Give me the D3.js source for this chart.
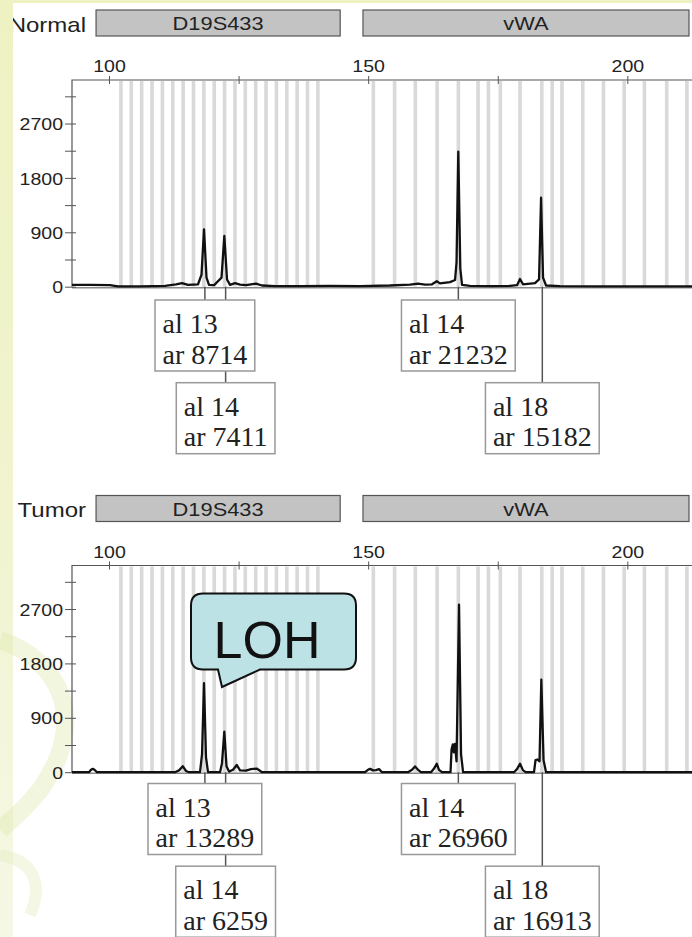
<!DOCTYPE html>
<html>
<head>
<meta charset="utf-8">
<script src="https://cdn.jsdelivr.net/npm/d3@7/dist/d3.min.js"></script>
<style>
body { margin: 0; background: #fff; }
svg { display: block; }
.sans { font-family: Arial, "Liberation Sans", sans-serif; }
.serif { font-family: "Times New Roman", "Liberation Serif", serif; }
</style>
</head>
<body>
<div id="chart"></div>
<script>
// bins (bp) shown as grey bars
var d19Bins = [102.3, 104.3, 106.3, 108.3, 110.3, 112.3, 114.3, 116.3, 118.3, 120.3,
               122.3, 124.3, 126.3, 128.3, 130.3, 132.3, 134.3, 136.3, 138.3, 140.3];
var vwaBins = [151.0, 155.1, 159.1, 163.3, 167.4, 171.2, 173.2, 175.5, 179.3, 183.5,
               185.5, 187.4, 191.4, 195.4, 199.4, 203.3, 207.6, 211.5];

var markerNames = ['D19S433', 'vWA'];
var markerStart = [97.5, 149.0];
var markerEnd = [144.6, 211.9];

var xTicks = [100, 125, 150, 175, 200];
var xLabels = [100, 150, 200];
var yTicks = [0, 450, 900, 1350, 1800, 2250, 2700, 3150];
var yLabels = [0, 900, 1800, 2700];

// electropherogram traces: size (bp) and height (rfu)
var normalBp = [92.86, 96.33, 100.19, 101.74, 105.98, 110.8, 112.93, 114.08, 115.24, 117.17,
                117.85, 118.33, 118.81, 119.29, 120.26, 121.71, 122.25, 122.77, 123.35, 124.31,
                125.28, 126.43, 128.36, 129.52, 132.03, 136.85, 142.64, 148.43, 154.22, 158.07,
                159.62, 160.97, 162.32, 163.23, 163.86, 165.79, 166.76, 167.05, 167.39, 167.78,
                168.11, 169.65, 173.51, 177.37, 178.72, 179.3, 179.88, 182.19, 182.97, 183.36,
                183.74, 184.32, 187.02, 194.73, 204.38, 212.48];
var normalRfu = [30, 30, 25, 5, 5, 15, 40, 60, 30, 40,
                 200, 950, 150, 30, 25, 150, 839, 120, 30, 60,
                 35, 25, 50, 20, 10, 10, 15, 10, 20, 35,
                 50, 35, 40, 90, 55, 75, 110, 400, 2233, 300,
                 30, 15, 10, 15, 25, 127, 40, 60, 120, 1472,
                 150, 20, 10, 5, 5, 5];

var tumorBp = [92.86, 96.14, 96.53, 96.86, 97.2, 97.68, 112.73, 113.5, 114.22, 114.86,
               115.44, 117.56, 117.95, 118.33, 118.71, 119.1, 121.42, 121.8, 122.25, 122.67,
               123.15, 123.92, 124.64, 125.28, 126.43, 127.4, 128.55, 129.52, 149.39, 149.97,
               150.36, 150.94, 151.52, 152.1, 152.67, 157.69, 158.46, 159.04, 159.62, 160.2,
               162.13, 162.71, 163.23, 163.67, 164.25, 165.89, 166.09, 166.34, 166.53, 166.76,
               167.05, 167.53, 167.92, 168.31, 178.14, 178.72, 179.3, 179.88, 180.46, 182.0,
               182.29, 182.68, 183.06, 183.41, 183.84, 184.32, 212.48];
var tumorRfu = [0, 0, 40, 55, 40, 0, 0, 30, 100, 20,
                0, 0, 300, 1475, 250, 0, 0, 150, 670, 100,
                10, 40, 120, 30, 25, 50, 60, 0, 0, 40,
                55, 30, 35, 50, 0, 0, 40, 95, 40, 0,
                0, 60, 140, 40, 0, 0, 380, 460, 330, 470,
                180, 2771, 300, 0, 0, 50, 140, 30, 0, 0,
                200, 210, 180, 1530, 200, 0, 0];

// allele calls
var callBp = [118.5, 122.5, 167.4, 183.6];
var callAllele = [13, 14, 14, 18];
var callRow = [0, 1, 0, 1];
var normalArea = [8714, 7411, 21232, 15182];
var tumorArea = [13289, 6259, 26960, 16913];

var width = 692;
var height = 937;
var panelGap = 485.5;
var frameLeft = 72;
var frameTop = 80;
var base = 286.7;

var svg = d3.select('#chart')
    .append('svg')
    .attr('width', width)
    .attr('height', height);

var defs = svg.append('defs');
defs.append('clipPath').attr('id', 'pageClip')
    .append('rect').attr('x', 13).attr('y', 3).attr('width', width - 13).attr('height', height - 3);
var grad = defs.append('linearGradient').attr('id', 'strip')
    .attr('x1', 0).attr('y1', 0).attr('x2', 0).attr('y2', 1);
grad.append('stop').attr('offset', '0%').attr('stop-color', '#eef2c2');
grad.append('stop').attr('offset', '55%').attr('stop-color', '#f1f4cf');
grad.append('stop').attr('offset', '100%').attr('stop-color', '#f6f8e6');

svg.append('rect').attr('width', width).attr('height', height).attr('fill', 'url(#strip)');
svg.append('rect').attr('x', 13).attr('y', 3).attr('width', width - 13).attr('height', height - 3)
    .attr('fill', '#fff');

// faint swoosh at the lower left
var swoosh = svg.append('g').attr('opacity', 0.4);
swoosh.append('path')
    .attr('d', 'M0,640 C60,660 90,720 40,790 C20,815 5,825 0,830')
    .attr('fill', 'none').attr('stroke', '#dfe9b0').attr('stroke-width', 18);
swoosh.append('path')
    .attr('d', 'M0,855 C30,860 45,880 30,915')
    .attr('fill', 'none').attr('stroke', '#e3ecbe').attr('stroke-width', 12);

var x = d3.scaleLinear().domain([92.86, 212.48]).range([frameLeft, width]);
var y = d3.scaleLinear().domain([0, 3420]).range([base, frameTop]);

var page = svg.append('g').attr('clip-path', 'url(#pageClip)');

function drawPanel(offset, name, bp, rfu, areas, boxGap) {
    var g = page.append('g').attr('transform', `translate(0,${offset})`);

    // header row
    g.append('text')
        .attr('class', 'sans')
        .attr('transform', 'translate(86,31.5) scale(1.2,1)')
        .attr('text-anchor', 'end')
        .attr('font-size', 20)
        .attr('fill', '#222')
        .text(name);

    markerNames.forEach((m, i) => {
        var x0 = x(markerStart[i]);
        var x1 = x(markerEnd[i]);
        g.append('rect')
            .attr('x', x0).attr('y', 10)
            .attr('width', x1 - x0).attr('height', 26)
            .attr('fill', '#c3c3c3')
            .attr('stroke', '#555')
            .attr('stroke-width', 1.2);
        g.append('text')
            .attr('class', 'sans')
            .attr('transform', `translate(${(x0 + x1) / 2},30) scale(1.15,1)`)
            .attr('text-anchor', 'middle')
            .attr('font-size', 19)
            .attr('fill', '#222')
            .text(m);
    });

    // bins
    g.selectAll('rect.bin')
        .data(d19Bins.concat(vwaBins))
        .enter()
        .append('rect')
        .attr('class', 'bin')
        .attr('x', d => x(d) - 1.8)
        .attr('y', frameTop + 1)
        .attr('width', 3.6)
        .attr('height', base - frameTop - 1)
        .attr('fill', '#d9d9d9');

    // baseline
    g.append('line')
        .attr('x1', frameLeft).attr('x2', width)
        .attr('y1', base + 1).attr('y2', base + 1)
        .attr('stroke', '#8a8a8a').attr('stroke-width', 1.6);

    // frame
    g.append('path')
        .attr('d', `M${frameLeft},${base}V${frameTop}H${width}`)
        .attr('fill', 'none').attr('stroke', '#555').attr('stroke-width', 1.2);

    var xAxis = d3.axisTop(x)
        .tickValues(xTicks)
        .tickSize(4)
        .tickPadding(4)
        .tickFormat(d => xLabels.includes(d) ? d : '');
    g.append('g')
        .attr('transform', `translate(0,${frameTop})`)
        .call(xAxis)
        .call(a => a.select('.domain').remove())
        .call(a => a.selectAll('.tick line').attr('y1', 4).attr('y2', -4).attr('stroke', '#555'))
        .call(a => a.selectAll('.tick text')
            .attr('class', 'sans')
            .attr('font-size', 17)
            .attr('fill', '#222')
            .attr('transform', 'scale(1.15,1)'));

    var yAxis = d3.axisLeft(y)
        .tickValues(yTicks)
        .tickSize(7)
        .tickPadding(2)
        .tickFormat(d => yLabels.includes(d) ? d : '');
    g.append('g')
        .attr('transform', `translate(${frameLeft},0)`)
        .call(yAxis)
        .call(a => a.select('.domain').remove())
        .call(a => a.selectAll('.tick line').attr('x1', 4).attr('x2', -7).attr('stroke', '#555'))
        .call(a => a.selectAll('.tick text')
            .attr('class', 'sans')
            .attr('font-size', 17)
            .attr('fill', '#222')
            .attr('x', -9 / 1.15)
            .attr('dy', '0.36em')
            .attr('transform', 'scale(1.15,1)'));

    // trace
    var pts = bp.map((b, i) => [b, rfu[i]]);
    var line = d3.line().x(d => x(d[0])).y(d => y(d[1]));
    g.append('path')
        .datum(pts)
        .attr('d', line)
        .attr('fill', 'none')
        .attr('stroke', '#111')
        .attr('stroke-width', 2.3)
        .attr('stroke-linejoin', 'round');

    // allele call boxes
    var boxH = 71;
    var rowStep = 82.7;
    callBp.forEach((b, i) => {
        g.append('line')
            .attr('x1', x(b)).attr('x2', x(b))
            .attr('y1', base).attr('y2', base + boxGap + callRow[i] * rowStep)
            .attr('stroke', '#555').attr('stroke-width', 1.5);
    });
    callBp.forEach((b, i) => {
        var top = base + boxGap + callRow[i] * rowStep;
        var bg = g.append('g');
        var box = bg.append('rect');
        var t = bg.append('text')
            .attr('class', 'serif')
            .attr('font-size', 28)
            .attr('fill', '#222');
        t.append('tspan').attr('y', top + 33).text('al ' + callAllele[i]);
        t.append('tspan').attr('y', top + 63.5).text('ar ' + areas[i]);
        var w = d3.max(t.selectAll('tspan').nodes(), n => n.getComputedTextLength());
        var bw = w + 15;
        var left = x(b) - bw / 2;
        t.selectAll('tspan').attr('x', left + 7.5);
        box.attr('x', left).attr('y', top)
            .attr('width', bw).attr('height', boxH)
            .attr('fill', '#fff')
            .attr('stroke', '#999')
            .attr('stroke-width', 1.5);
    });
}

drawPanel(0, 'Normal', normalBp, normalRfu, normalArea, 13.3);
drawPanel(panelGap, 'Tumor', tumorBp, tumorRfu, tumorArea, 11.3);

// LOH callout
var callout = svg.append('g');
callout.append('path')
    .attr('d', 'M203,593.5 H344 Q356,593.5 356,605.5 V657.5 Q356,669.5 344,669.5 H260 L222,687 L218,669.5 H203 Q191,669.5 191,657.5 V605.5 Q191,593.5 203,593.5 Z')
    .attr('fill', '#bde2e5')
    .attr('stroke', '#111')
    .attr('stroke-width', 2);
callout.append('text')
    .attr('class', 'sans')
    .attr('x', 267).attr('y', 658)
    .attr('text-anchor', 'middle')
    .attr('font-size', 52)
    .attr('fill', '#111')
    .text('LOH');
</script>
</body>
</html>
